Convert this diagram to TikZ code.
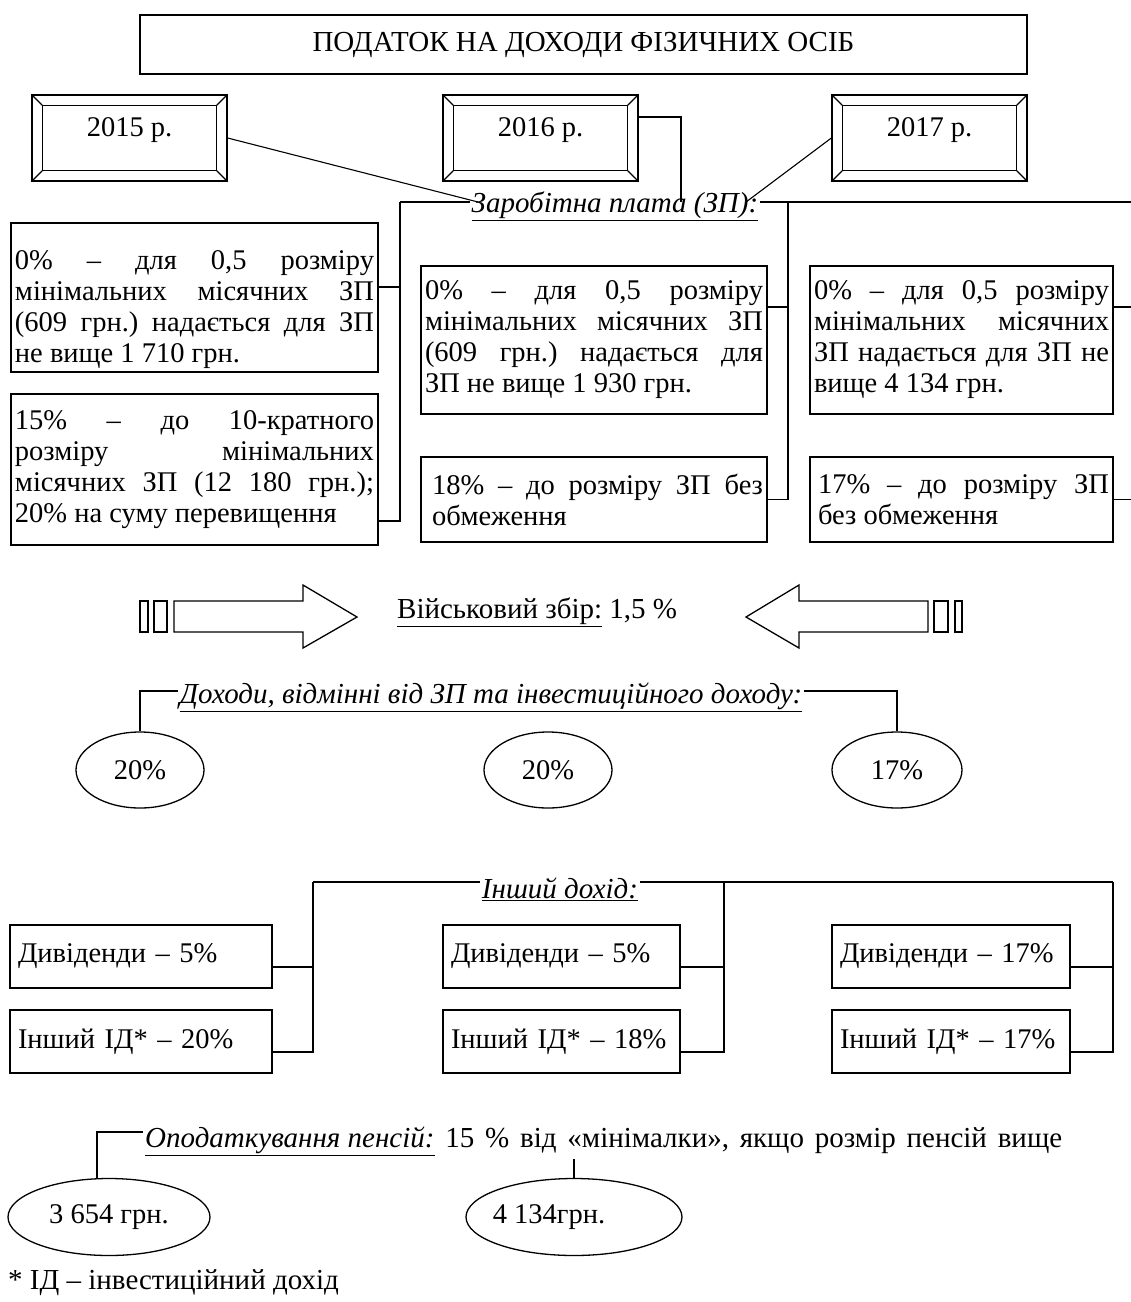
\documentclass[tikz,border=0pt]{standalone}
\usepackage{fontspec}
\setmainfont{Liberation Serif}
\usetikzlibrary{shapes.geometric}
\newcommand{\fsA}{\fontsize{28.5}{31}\selectfont\frenchspacing}
\newcommand{\fsH}{\fontsize{29}{31}\selectfont\frenchspacing}
\newcommand{\fsY}{\fontsize{28.5}{32}\selectfont}
\newcommand{\jl}[2]{\hbox to #1{\spaceskip=0.25em plus 1fil\relax #2}}
\tikzset{
  ln/.style={line width=1.1pt},
  box/.style={draw, line width=1.3pt, inner xsep=4pt, inner ysep=0pt, font=\fsA, align=left},
  sbox/.style={draw, line width=1.3pt, inner xsep=8pt, inner ysep=0pt, font=\fsA, minimum height=63pt, align=left},
  yfr/.style={draw, line width=1.3pt, minimum width=195pt, minimum height=86pt, inner sep=0pt},
  ell/.style={draw, ellipse, line width=1.3pt, inner sep=0pt, font=\fsA},
  hd/.style={font=\fsH, inner sep=2pt},
  arr/.style={draw, line width=1.3pt}
}
\begin{document}
\begin{tikzpicture}[x=1pt,y=-1pt]
\useasboundingbox (0,0) rectangle (1131,1302);
% title
\node[draw, line width=1.3pt, minimum width=887pt, minimum height=59pt, font=\fsH] (tl) at (583.5,44.5) {ПОДАТОК НА ДОХОДИ ФІЗИЧНИХ ОСІБ};
% year frames
\foreach \nm/\cx/\tx in {y15/129.5/2015, y16/540.5/2016, y17/929.5/2017}{
  \node[yfr] (\nm) at (\cx,138) {};
  \draw[line width=1.1pt] ([shift={(11,11)}]\nm.north west) rectangle ([shift={(-11,-11)}]\nm.south east);
  \draw[line width=1.1pt] (\nm.north west) -- ([shift={(11,11)}]\nm.north west);
  \draw[line width=1.1pt] (\nm.north east) -- ([shift={(-11,11)}]\nm.north east);
  \draw[line width=1.1pt] (\nm.south west) -- ([shift={(11,-11)}]\nm.south west);
  \draw[line width=1.1pt] (\nm.south east) -- ([shift={(-11,-11)}]\nm.south east);
  \node[font=\fsY, inner sep=0pt] (\nm t) at (\cx,130) {\tx\ р.};
}
% wages heading
\node[hd] (zp) at (615,206) {\underline{\textit{Заробітна плата (ЗП):}}};
\coordinate (zp15) at (478,202);
\coordinate (zp16) at (681,202);
\coordinate (zp17) at (746,202);
\coordinate (lbus) at (400,202);
\coordinate (mbus) at (788,202);
\coordinate (redge) at (1131,202);
\coordinate (re1) at (1131,307);
\coordinate (re2) at (1131,499.5);
\draw[ln] (y15.east) -- (zp15);
\draw[ln] ([yshift=21pt]y16.east) -| (zp16);
\draw[ln] (y17.west) -- (zp17);
% boxes
\node[box, minimum width=367pt, minimum height=149pt] (lb1) at (194.5,297.5) {%
\jl{359pt}{\rule{0pt}{44pt}0\% – для 0,5 розміру}\\
\jl{359pt}{мінімальних місячних ЗП}\\
\jl{359pt}{(609 грн.) надається для ЗП}\\
не вище 1 710 грн.};
\node[box, minimum width=367pt, minimum height=151pt] (lb2) at (194.5,469.5) {%
\jl{359pt}{15\% – до 10-кратного}\\
\jl{359pt}{розміру мінімальних}\\
\jl{359pt}{місячних ЗП (12 180 грн.);}\\
20\% на суму перевищення};
\node[box, minimum width=346pt, minimum height=148pt] (mb1) at (594,340) {%
\jl{338pt}{0\% – для 0,5 розміру}\\
\jl{338pt}{мінімальних місячних ЗП}\\
\jl{338pt}{(609 грн.) надається для}\\
ЗП не вище 1 930 грн.};
\node[box, minimum width=346pt, minimum height=85pt] (mb2) at (594,499.5) {%
\jl{338pt}{\hspace*{7pt}18\% – до розміру ЗП без}\\
\hspace*{7pt}обмеження};
\node[box, minimum width=303pt, minimum height=148pt] (rb1) at (961.5,340) {%
\jl{295pt}{0\% – для 0,5 розміру}\\
\jl{295pt}{мінімальних місячних}\\
\jl{295pt}{ЗП надається для ЗП не}\\
вище 4 134 грн.};
\node[box, minimum width=303pt, minimum height=85pt] (rb2) at (961.5,499.5) {%
\jl{295pt}{\hspace*{4pt}17\% – до розміру ЗП}\\
\hspace*{4pt}без обмеження};
% wages connectors
\draw[ln] (zp.west |- lbus) -- (lbus);
\draw[ln] (lb1.east |- 0,287) -| (lbus);
\draw[ln] (lb2.east |- 0,521) -| (lbus);
\draw[ln] (zp.east |- redge) -- (redge);
\draw[ln] (mb1.east |- 0,307) -| (mbus);
\draw[ln] (mb2.east) -| (mbus);
\draw[ln] (rb1.east |- re1) -- (re1);
\draw[ln] (rb2.east) -- (re2);
% military levy arrows
\draw[arr] (140,601) rectangle (148,632);
\draw[arr] (154,601) rectangle (167,632);
\draw[arr] (174,601) -- (303,601) -- (303,585) -- (357,617) -- (303,648) -- (303,632) -- (174,632) -- cycle;
\draw[arr] (928,601) -- (799,601) -- (799,585) -- (746,617) -- (799,648) -- (799,632) -- (928,632) -- cycle;
\draw[arr] (934,601) rectangle (948,632);
\draw[arr] (955,601) rectangle (962,632);
\node[hd, anchor=west] (vz) at (395,612) {\underline{Військовий збір:} 1,5 \%};
% other income
\node[hd] (dh) at (491,697) {\underline{\textit{Доходи, відмінні від ЗП та інвестиційного доходу:}}};
\node[ell, minimum width=128pt, minimum height=76pt] (e1) at (140,770) {20\%};
\node[ell, minimum width=128pt, minimum height=76pt] (e2) at (548,770) {20\%};
\node[ell, minimum width=130pt, minimum height=76pt] (e3) at (897,770) {17\%};
\draw[ln] (dh.west |- 0,691) -| (e1.north);
\draw[ln] (dh.east |- 0,691) -| (e3.north);
% investment income
\node[hd] (id) at (560,889) {\underline{\textit{Інший дохід:}}};
\coordinate (ib1) at (313,882);
\coordinate (ib2) at (724,882);
\coordinate (ib3) at (1113,882);
\node[sbox, text width=246pt] (d1) at (141,956.5) {Дивіденди – 5\%};
\node[sbox, text width=246pt] (o1) at (141,1041.5) {Інший ІД* – 20\%};
\node[sbox, text width=221pt] (d2) at (561.5,956.5) {Дивіденди – 5\%};
\node[sbox, text width=221pt] (o2) at (561.5,1041.5) {Інший ІД* – 18\%};
\node[sbox, text width=222pt] (d3) at (951,956.5) {Дивіденди – 17\%};
\node[sbox, text width=222pt] (o3) at (951,1041.5) {Інший ІД* – 17\%};
\draw[ln] (id.west |- ib1) -- (ib1);
\draw[ln] (id.east |- ib3) -- (ib3);
\draw[ln] (d1.east |- 0,967) -| (ib1);
\draw[ln] (o1.east |- 0,1052) -| (ib1);
\draw[ln] (d2.east |- 0,967) -| (ib2);
\draw[ln] (o2.east |- 0,1052) -| (ib2);
\draw[ln] (d3.east |- 0,967) -| (ib3);
\draw[ln] (o3.east |- 0,1052) -| (ib3);
% pensions
\node[hd, anchor=west] (pn) at (143,1141) {\makebox[917pt][s]{\underline{\textit{Оподаткування пенсій:}} 15 \% від «мінімалки», якщо розмір пенсій вище}};
\node[ell, minimum width=202pt, minimum height=77pt] (pe1) at (109,1217) {3 654 грн.};
\node[ell, minimum width=216pt, minimum height=77pt] (pe2) at (574,1217) {\hspace*{-50pt}4 134грн.};
\coordinate (pt2) at (574,1159);
\draw[ln] (pn.west |- 0,1132) -| (pe1.north -| 97,0);
\draw[ln] (pt2) -- (pe2.north);
% footnote
\node[hd, anchor=west] (fn) at (6,1283) {* ІД – інвестиційний дохід};
\end{tikzpicture}
\end{document}
